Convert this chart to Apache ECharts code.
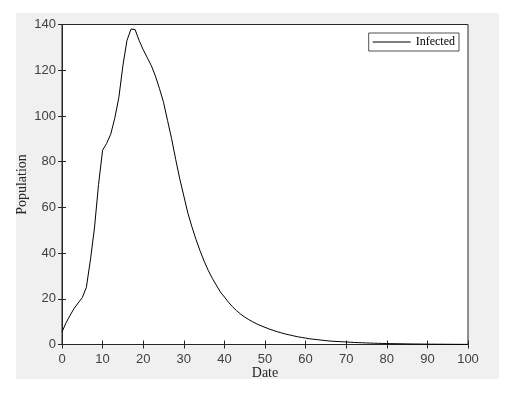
<!DOCTYPE html>
<html>
<head>
<meta charset="utf-8">
<script src="https://cdn.jsdelivr.net/npm/echarts@6/dist/echarts.min.js"></script>
<style>
  html, body { margin: 0; padding: 0; background: #fff; }
  #chart { width: 511px; height: 403px; }
</style>
</head>
<body>
<div id="chart"></div>
<script>
// days 0..100
const days = []
for (let d = 0; d <= 100; d++) days.push(d)

// infected population, one value per day
const infected = [
  5.5, 9.5, 12.8, 15.8, 18.2, 20.5, 25, 37, 51, 70,
  85, 88, 92, 99, 108, 122, 133, 138, 137.8, 133,
  129, 125.5, 122, 117.5, 112, 106, 98, 90, 81, 72.5,
  65, 57.5, 51.5, 46, 41, 36.5, 32.5, 29, 26, 23,
  20.8, 18.5, 16.5, 14.8, 13.3, 12, 10.9, 9.9, 9.0, 8.2,
  7.5, 6.8, 6.2, 5.6, 5.1, 4.6, 4.2, 3.8, 3.4, 3.1,
  2.8, 2.5, 2.3, 2.1, 1.9, 1.7, 1.5, 1.4, 1.3, 1.2,
  1.1, 1.0, 0.9, 0.82, 0.75, 0.68, 0.62, 0.56, 0.5, 0.46,
  0.42, 0.38, 0.35, 0.32, 0.29, 0.26, 0.24, 0.22, 0.2, 0.18,
  0.16, 0.15, 0.13, 0.12, 0.11, 0.1, 0.09, 0.08, 0.07, 0.06,
  0.05
]

const xTicks = { min: 0, max: 100, interval: 10 }
const yTicks = { min: 0, max: 140, interval: 20 }

const chart = echarts.init(document.getElementById('chart'))

const axisColor = '#262626'
const sansFont = "'Liberation Sans', Arial, sans-serif"
const serifFont = "'Liberation Serif', 'DejaVu Serif', serif"

chart.setOption({
  animation: false,
  // matlab figure gray
  graphic: [{
    type: 'rect',
    z: -100,
    silent: true,
    shape: { x: 16, y: 13, width: 483, height: 366 },
    style: { fill: '#f0f0f0' }
  }],
  grid: {
    left: 62,
    top: 24.5,
    right: 43,
    bottom: 58.5,
    show: true,
    backgroundColor: '#fff',
    borderColor: axisColor,
    borderWidth: 1
  },
  legend: {
    right: 52,
    top: 33,
    orient: 'vertical',
    data: [{ name: 'Infected', icon: 'rect' }],
    backgroundColor: '#fff',
    borderColor: axisColor,
    borderWidth: 0.8,
    borderRadius: 0,
    padding: [3, 4, 3, 4],
    itemWidth: 38,
    itemHeight: 1,
    itemGap: 4,
    itemStyle: { color: '#000' },
    textStyle: { color: '#000', fontSize: 12, fontFamily: serifFont }
  },
  xAxis: [{
    type: 'value',
    min: xTicks.min,
    max: xTicks.max,
    interval: xTicks.interval,
    name: 'Date',
    nameLocation: 'middle',
    nameGap: 22,
    nameMoveOverlap: false,
    nameTextStyle: { color: axisColor, fontSize: 14, fontFamily: serifFont },
    axisLine: { onZero: false, lineStyle: { color: axisColor } },
    axisTick: { inside: true, length: 4, lineStyle: { color: axisColor } },
    axisLabel: { margin: 8, color: '#404040', fontSize: 13, fontFamily: sansFont },
    splitLine: { show: false }
  }, {
    type: 'value',
    position: 'top',
    min: xTicks.min,
    max: xTicks.max,
    interval: xTicks.interval,
    axisLine: { show: false },
    axisTick: { inside: true, length: 4, lineStyle: { color: axisColor } },
    axisLabel: { show: false },
    splitLine: { show: false }
  }],
  yAxis: [{
    type: 'value',
    min: yTicks.min,
    max: yTicks.max,
    interval: yTicks.interval,
    name: 'Population',
    nameLocation: 'middle',
    nameGap: 33,
    nameMoveOverlap: false,
    nameTextStyle: { color: axisColor, fontSize: 14, fontFamily: serifFont },
    axisLine: { show: true, onZero: false, lineStyle: { color: axisColor } },
    axisTick: { show: true, inside: true, length: 4, lineStyle: { color: axisColor } },
    axisLabel: { margin: 6, color: '#404040', fontSize: 13, fontFamily: sansFont },
    splitLine: { show: false }
  }, {
    type: 'value',
    position: 'right',
    min: yTicks.min,
    max: yTicks.max,
    interval: yTicks.interval,
    axisLine: { show: false },
    axisTick: { show: true, inside: true, length: 4, lineStyle: { color: axisColor } },
    axisLabel: { show: false },
    splitLine: { show: false }
  }],
  series: [{
    name: 'Infected',
    type: 'line',
    symbol: 'none',
    lineStyle: { color: '#000', width: 1 },
    itemStyle: { color: '#000' },
    data: days.map((d, i) => [d, infected[i]])
  }]
})
</script>
</body>
</html>
